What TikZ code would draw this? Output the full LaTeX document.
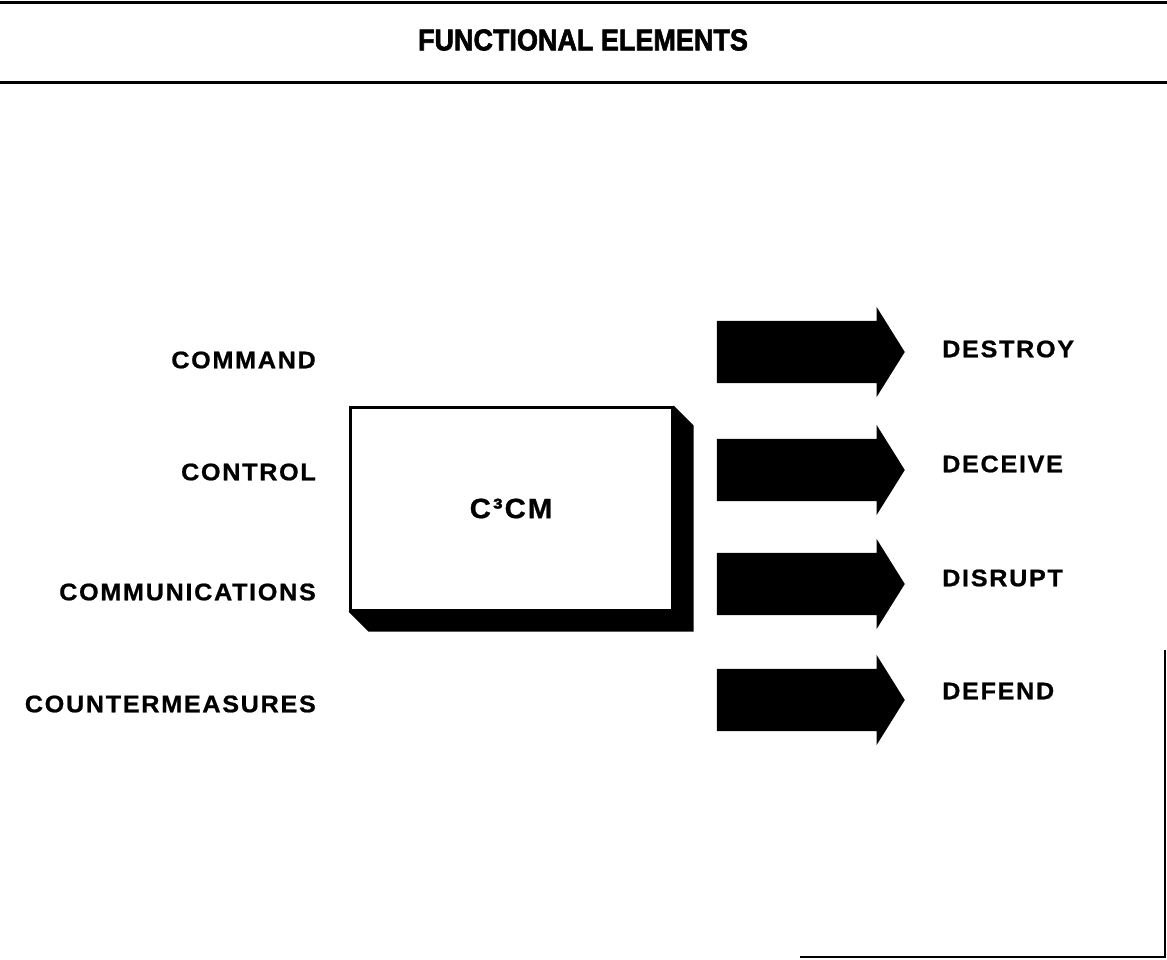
\documentclass[tikz,border=0pt]{standalone}
\usepackage{fontspec}
\setmainfont{Liberation Sans}
\newfontfamily\labelfont{Liberation Sans}[FakeStretch=1.05, LetterSpace=7, BoldFeatures={FakeBold=0.8}]
\newfontfamily\titlefont{Liberation Sans}[FakeStretch=0.9, BoldFeatures={FakeBold=2}]
\usetikzlibrary{shapes.arrows, positioning, backgrounds, calc}
\tikzset{
  labelL/.style={anchor=east, inner sep=0pt, font=\labelfont\bfseries\fontsize{24}{24}\selectfont},
  labelR/.style={anchor=west, inner sep=0pt, font=\labelfont\bfseries\fontsize{24}{24}\selectfont},
  frontbox/.style={draw=black, line width=3pt, fill=white, minimum width=322pt, minimum height=203pt, inner sep=0pt, font=\labelfont\bfseries\fontsize{28}{28}\selectfont},
  blockarrow/.style={single arrow, fill=black, draw=none, inner sep=0pt, text height=62pt, text depth=0pt, minimum height=188pt, single arrow head extend=14pt, single arrow tip angle=116},
  rule/.style={line width=3pt}
}
\begin{document}
\begin{tikzpicture}[x=1pt, y=-1pt]
\useasboundingbox (0,0) rectangle (1167,960);

% Title and rules
\node (title) [font=\titlefont\bfseries\fontsize{30}{30}\selectfont, inner sep=0pt] at (583,40) {FUNCTIONAL ELEMENTS};
\draw [rule] (0,2.5) -- (1167,2.5);
\draw [rule] (0,83) -- (1167,83);

% Frame corner
\draw [line width=2pt] (800,957) -- (1164.5,957) -- (1164.5,650);

% Central box
\node (c3cm) [frontbox] at (511,508.5) {C³CM};
\begin{scope}[on background layer]
\fill (c3cm.south west) -- (c3cm.south east) -- (c3cm.north east)
  -- ++(20,20) -- ($(c3cm.south east)+(20,20)$) -- ($(c3cm.south west)+(20,20)$) -- cycle;
\end{scope}

% Inputs
\foreach \name/\yy/\txt in {command/360/COMMAND, control/472/CONTROL, comms/592/COMMUNICATIONS, counter/704/COUNTERMEASURES}
  \node (\name) [labelL] at (316,\yy) {\txt};

% Outputs
\foreach \name/\yy in {adestroy/352, adeceive/470, adisrupt/584, adefend/700}
  \node (\name) [blockarrow] at (801,\yy) {};
\foreach \name/\yy/\txt in {destroy/349/DESTROY, deceive/464/DECEIVE, disrupt/578/DISRUPT, defend/691/DEFEND}
  \node (\name) [labelR] at (942,\yy) {\txt};

\end{tikzpicture}
\end{document}
